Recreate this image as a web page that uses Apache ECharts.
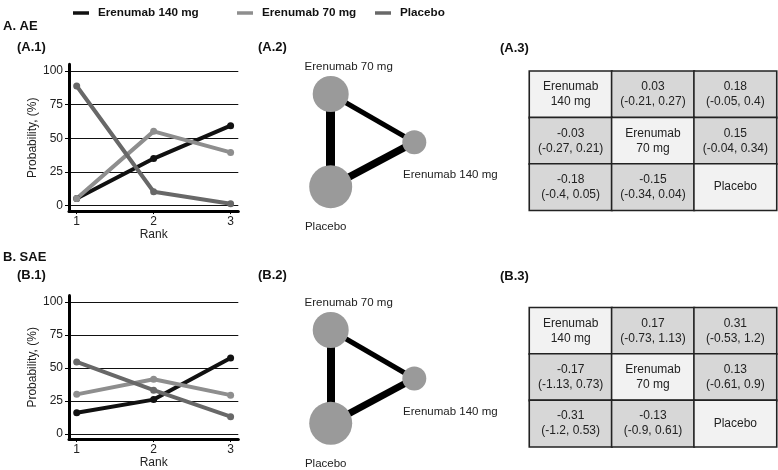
<!DOCTYPE html>
<html>
<head>
<meta charset="utf-8">
<script src="https://cdn.jsdelivr.net/npm/echarts@6/dist/echarts.min.js"></script>
<style>
  html, body { margin: 0; padding: 0; background: #fff; }
  #chart { width: 778px; height: 470px; }
</style>
</head>
<body>
<div id="chart"></div>
<script>
const ranks = [1, 2, 3];
const yTicks = [0, 25, 50, 75, 100];
const treatments = ['Erenumab 140 mg', 'Erenumab 70 mg', 'Placebo'];

// rank probabilities (%), rank 1..3
const aeRank140 = [5.4, 35, 59.4];
const aeRank70 = [5.4, 55.2, 39.6];
const aeRankPbo = [88.9, 10.4, 1.5];
const saeRank140 = [16, 26, 57.6];
const saeRank70 = [30, 41.4, 29.4];
const saeRankPbo = [54.6, 33.2, 13];

// network plot: nodes 70 mg, placebo, 140 mg
const netNodes = ['Erenumab 70 mg', 'Placebo', 'Erenumab 140 mg'];
const netEdges = [[0, 1], [1, 2], [0, 2]];
const aeNodeSize = [36, 43, 24];
const aeEdgeWeight = [9, 7.5, 5];
const saeNodeSize = [36, 43, 24];
const saeEdgeWeight = [8, 7, 5];

// league tables: estimate (low, high), row vs column
const aeEst = [[null, 0.03, 0.18], [-0.03, null, 0.15], [-0.18, -0.15, null]];
const aeLow = [[null, -0.21, -0.05], [-0.27, null, -0.04], [-0.4, -0.34, null]];
const aeHigh = [[null, 0.27, 0.4], [0.21, null, 0.34], [0.05, 0.04, null]];
const saeEst = [[null, 0.17, 0.31], [-0.17, null, 0.13], [-0.31, -0.13, null]];
const saeLow = [[null, -0.73, -0.53], [-1.13, null, -0.61], [-1.2, -0.9, null]];
const saeHigh = [[null, 1.13, 1.2], [0.73, null, 0.9], [0.53, 0.61, null]];
const tableNames = ['Erenumab\n140 mg', 'Erenumab\n70 mg', 'Placebo'];

const FONT = 'Liberation Sans';
const colors = ['#111111', '#8e8e8e', '#686868'];

// layout of the network triangle (unit box) and label placement
const netPos = [[0, 1], [0, 0], [1, 0.48]];
const netLabel = [
  { position: 'top', distance: 3, offset: [18, 0] },
  { position: 'bottom', distance: 5, offset: [-5, 8] },
  { position: 'bottom', distance: 5, offset: [36, 10] }
];

function rankSeries(gi, name, values, color) {
  return {
    type: 'line', name: name, xAxisIndex: gi, yAxisIndex: gi,
    data: ranks.map((r, i) => [r, values[i]]),
    symbol: 'circle', symbolSize: 7,
    lineStyle: { width: 4, color: color },
    itemStyle: { color: color },
    silent: true, animation: false
  };
}

function rankX(gi) {
  return {
    type: 'value', gridIndex: gi, min: 0.9, max: 3.1,
    axisLine: { show: true, onZero: false, lineStyle: { color: '#000', width: 3 } },
    axisTick: { show: true, customValues: ranks, length: 3, lineStyle: { color: '#000' } },
    axisLabel: { customValues: ranks, margin: 5, fontSize: 12, color: '#222', fontFamily: FONT },
    splitLine: { show: false },
    name: 'Rank', nameLocation: 'middle', nameGap: 17,
    nameTextStyle: { fontSize: 12, color: '#222', fontFamily: FONT }
  };
}

function rankY(gi) {
  return {
    type: 'value', gridIndex: gi, min: -4, max: 105,
    axisLine: { show: true, onZero: false, lineStyle: { color: '#000', width: 3 } },
    axisTick: { show: true, customValues: yTicks, length: 4, lineStyle: { color: '#000' } },
    axisLabel: { customValues: yTicks, margin: 6, fontSize: 12, color: '#222', fontFamily: FONT },
    splitLine: { show: true, customValues: yTicks, lineStyle: { color: '#111', width: 1 } },
    name: 'Probability, (%)', nameLocation: 'middle', nameGap: 26,
    nameTextStyle: { fontSize: 12, color: '#222', fontFamily: FONT }
  };
}

function netSeries(gi, sizes, weights) {
  return {
    type: 'graph', coordinateSystem: 'cartesian2d', xAxisIndex: gi, yAxisIndex: gi,
    data: netNodes.map((n, i) => ({
      name: n, value: netPos[i], symbolSize: sizes[i], label: netLabel[i]
    })),
    links: netEdges.map((e, i) => ({
      source: e[0], target: e[1], lineStyle: { width: weights[i] }
    })),
    symbol: 'circle',
    itemStyle: { color: '#9a9a9a' },
    lineStyle: { color: '#000', opacity: 1, curveness: 0 },
    label: { show: true, fontSize: 11.5, color: '#222', fontFamily: FONT },
    emphasis: { disabled: true }, silent: true, animation: false
  };
}

function tableSeries(gi, est, low, high) {
  const cells = [];
  for (let r = 0; r < 3; r++) {
    for (let c = 0; c < 3; c++) {
      const diag = r === c;
      cells.push({
        value: [c, r, 0],
        txt: diag ? tableNames[r] : est[r][c] + '\n(' + low[r][c] + ', ' + high[r][c] + ')',
        itemStyle: { color: diag ? '#f2f2f2' : '#d7d7d7' }
      });
    }
  }
  return {
    type: 'heatmap', xAxisIndex: gi, yAxisIndex: gi, data: cells,
    itemStyle: { borderColor: '#222', borderWidth: 1.6 },
    label: {
      show: true, formatter: p => p.data.txt,
      fontSize: 12, lineHeight: 15, color: '#222', fontFamily: FONT
    },
    emphasis: { disabled: true }, silent: true, animation: false
  };
}

function hiddenVal(gi) {
  return { type: 'value', gridIndex: gi, min: 0, max: 1, show: false };
}
function hiddenCat(gi, inverse) {
  return { type: 'category', gridIndex: gi, data: ['0', '1', '2'], inverse: inverse, show: false };
}

const titleStyle = { fontSize: 13, fontWeight: 'bold', color: '#111', fontFamily: FONT };
function label(text, left, top) {
  return { text: text, left: left, top: top, padding: 0, textStyle: titleStyle };
}

function legendAt(name, left) {
  return {
    data: [name], left: left, top: 2, selectedMode: false,
    icon: 'rect', itemWidth: 16, itemHeight: 3.5,
    textStyle: { fontSize: 11.7, fontWeight: 'bold', color: '#111', fontFamily: FONT, padding: [0, 0, 0, 4] }
  };
}

const option = {
  backgroundColor: '#fff',
  textStyle: { fontFamily: FONT },
  title: [
    label('A. AE', 3, 20),
    label('(A.1)', 17, 41),
    label('(A.2)', 258, 41),
    label('(A.3)', 500, 42),
    label('B. SAE', 3, 251),
    label('(B.1)', 17, 269),
    label('(B.2)', 258, 269),
    label('(B.3)', 500, 270)
  ],
  legend: [
    legendAt(treatments[0], 68),
    legendAt(treatments[1], 232),
    legendAt(treatments[2], 370)
  ],
  grid: [
    { left: 69, top: 64.3, width: 169.3, height: 146.8 },
    { left: 69, top: 295.6, width: 169.3, height: 145.8 },
    { left: 330.7, top: 94, width: 83.6, height: 92.7 },
    { left: 330.7, top: 330, width: 83.6, height: 93.3 },
    { left: 529.5, top: 71.3, width: 247, height: 139 },
    { left: 529.5, top: 307.7, width: 247, height: 139 }
  ],
  xAxis: [rankX(0), rankX(1), hiddenVal(2), hiddenVal(3), hiddenCat(4, false), hiddenCat(5, false)],
  yAxis: [rankY(0), rankY(1), hiddenVal(2), hiddenVal(3), hiddenCat(4, true), hiddenCat(5, true)],
  series: [
    rankSeries(0, treatments[0], aeRank140, colors[0]),
    rankSeries(0, treatments[1], aeRank70, colors[1]),
    rankSeries(0, treatments[2], aeRankPbo, colors[2]),
    rankSeries(1, treatments[0], saeRank140, colors[0]),
    rankSeries(1, treatments[1], saeRank70, colors[1]),
    rankSeries(1, treatments[2], saeRankPbo, colors[2]),
    netSeries(2, aeNodeSize, aeEdgeWeight),
    netSeries(3, saeNodeSize, saeEdgeWeight),
    tableSeries(4, aeEst, aeLow, aeHigh),
    tableSeries(5, saeEst, saeLow, saeHigh)
  ]
};

echarts.init(document.getElementById('chart')).setOption(option);
</script>
</body>
</html>
